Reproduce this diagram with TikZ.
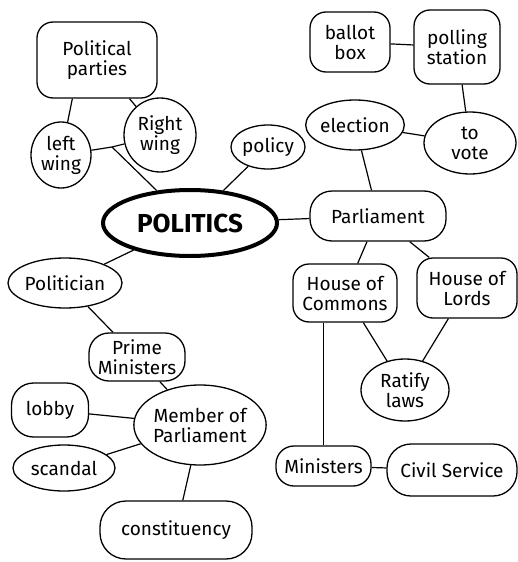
\documentclass[tikz,border=0pt]{standalone}
\usepackage{fontspec}
\setsansfont{Fira Sans}
\usepackage{tikz}
\usetikzlibrary{shapes.geometric, positioning}

\begin{document}
\begin{tikzpicture}[x=1pt, y=-1pt,
        blob/.style={rectangle, rounded corners=16pt, draw=black, line width=1.3pt, align=center, inner sep=2pt, font=\sffamily\fontsize{19}{20}\selectfont},
        oval/.style={ellipse, draw=black, line width=1.3pt, align=center, inner sep=0pt, font=\sffamily\fontsize{19}{20}\selectfont},
        hub/.style={ellipse, draw=black, line width=4pt, align=center, font=\sffamily\bfseries\fontsize{26}{28}\selectfont},
        link/.style={line width=1.2pt, draw=black}
    ]
        \useasboundingbox (0,0) rectangle (518,562);

        % Centro
        \node[hub, minimum width=174pt, minimum height=66pt] (pol) at (190,223) {POLITICS};

        % Rama izquierda superior
        \node[blob, minimum width=120pt, minimum height=76pt] (par) at (97,60) {Political\\parties};
        \node[oval, minimum width=60pt, minimum height=66pt] (lw) at (61,155) {left\\wing};
        \node[oval, minimum width=72pt, minimum height=74pt] (rw) at (160,135) {Right\\wing};
        \coordinate (wj) at (112,147);
        \node[oval, minimum width=74pt, minimum height=44pt] (pcy) at (268,147) {policy};

        % Rama derecha superior
        \node[blob, minimum width=80pt, minimum height=60pt] (bal) at (350,42) {ballot\\box};
        \node[blob, minimum width=86pt, minimum height=74pt] (pst) at (457,47) {polling\\station};
        \node[oval, minimum width=86pt, minimum height=50pt] (ele) at (355,125) {election};
        \node[oval, minimum width=92pt, minimum height=62pt] (vot) at (470,143) {to\\vote};
        \node[blob, minimum width=136pt, minimum height=50pt, rounded corners=22pt] (prl) at (378,216) {Parliament};

        % Rama derecha inferior
        \node[blob, minimum width=104pt, minimum height=58pt] (hoc) at (345,293) {House of\\Commons};
        \node[blob, minimum width=100pt, minimum height=60pt] (hol) at (467,288) {House of\\Lords};
        \node[oval, minimum width=88pt, minimum height=62pt] (rat) at (405,390) {Ratify\\laws};
        \node[blob, minimum width=95pt, minimum height=40pt, rounded corners=18pt] (min) at (323.5,466) {Ministers};
        \node[blob, minimum width=130pt, minimum height=52pt, rounded corners=24pt] (civ) at (452,470) {Civil Service};

        % Rama izquierda inferior
        \node[oval, minimum width=114pt, minimum height=50pt] (pcn) at (65,283) {Politician};
        \node[blob, minimum width=96pt, minimum height=48pt, rounded corners=20pt] (pm) at (137,357) {Prime\\Ministers};
        \node[oval, minimum width=132pt, minimum height=80pt] (mp) at (200,425) {Member of\\Parliament};
        \node[blob, minimum width=77pt, minimum height=54pt, rounded corners=22pt] (lob) at (50,410) {lobby};
        \node[oval, minimum width=102pt, minimum height=46pt] (sca) at (64,468) {scandal};
        \node[blob, minimum width=152pt, minimum height=58pt, rounded corners=26pt] (con) at (176,530) {constituency};

        % Conexiones
        \draw[link] (par.south west) ++(36,0) coordinate (pl) -- (lw);
        \draw[link] (par) -- (rw);
        \draw[link] (lw) -- (wj) -- (rw);
        \draw[link] (wj) -- (pol);
        \draw[link] (pol) -- (pcy);
        \draw[link] (pol) -- (prl);
        \draw[link] (pol) -- (pcn);
        \draw[link] (pcn) -- (pm);
        \draw[link] (pm) -- (mp);
        \draw[link] (mp) -- (lob);
        \draw[link] (mp) -- (sca);
        \draw[link] (mp) -- (con);
        \draw[link] (prl) -- (ele);
        \draw[link] (ele) -- (vot);
        \draw[link] (vot) -- (pst);
        \draw[link] (pst) -- (bal);
        \draw[link] (prl) -- (hoc);
        \draw[link] (prl) -- (hol);
        \draw[link] (hoc) -- (rat);
        \draw[link] (hol) -- (rat);
        \draw[link] (min.north) -- (min.north |- hoc.south);
        \draw[link] (min) -- (civ);
    \end{tikzpicture}
\end{document}
